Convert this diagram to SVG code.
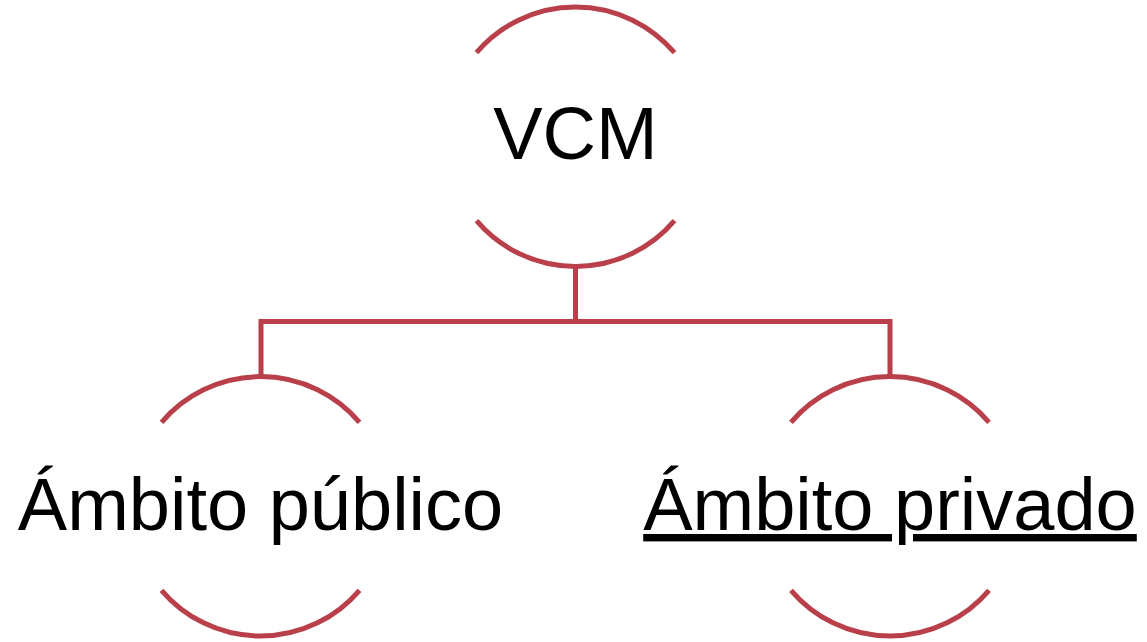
<svg xmlns="http://www.w3.org/2000/svg" width="1147" height="642" viewBox="0 0 1147 642">
<style>
.arc{fill:none;stroke:#B9404A;stroke-width:5}
.conn{fill:none;stroke:#B9404A;stroke-width:5;stroke-linejoin:miter}
.lbl{font-family:"Liberation Sans",Arial,sans-serif;font-size:74px;fill:#000;text-anchor:middle}
.ul{text-decoration:underline;text-decoration-skip-ink:none}
</style>
<rect width="1147" height="642" fill="#fff"/>
<g id="connectors">
<path class="conn" d="M575.5 266.7 V321.5 H261 V376.5"/>
<path class="conn" d="M575.5 321.5 H890 V376.5"/>
</g>
<g id="node-vcm">
<path class="arc" d="M476.5 52.7 A130 130 0 0 1 674.5 52.7"/>
<path class="arc" d="M476.5 220.7 A130 130 0 0 0 674.5 220.7"/>
<text class="lbl" x="575.5" y="159">VCM</text>
</g>
<g id="node-publico">
<path class="arc" d="M161.5 422.3 A130 130 0 0 1 359.5 422.3"/>
<path class="arc" d="M161.5 590.3 A130 130 0 0 0 359.5 590.3"/>
<text class="lbl" x="260.5" y="529.5">Ámbito público</text>
</g>
<g id="node-privado">
<path class="arc" d="M791 422.3 A130 130 0 0 1 989 422.3"/>
<path class="arc" d="M791 590.3 A130 130 0 0 0 989 590.3"/>
<text class="lbl ul" x="890" y="530">Ámbito privado</text>
</g>
</svg>
